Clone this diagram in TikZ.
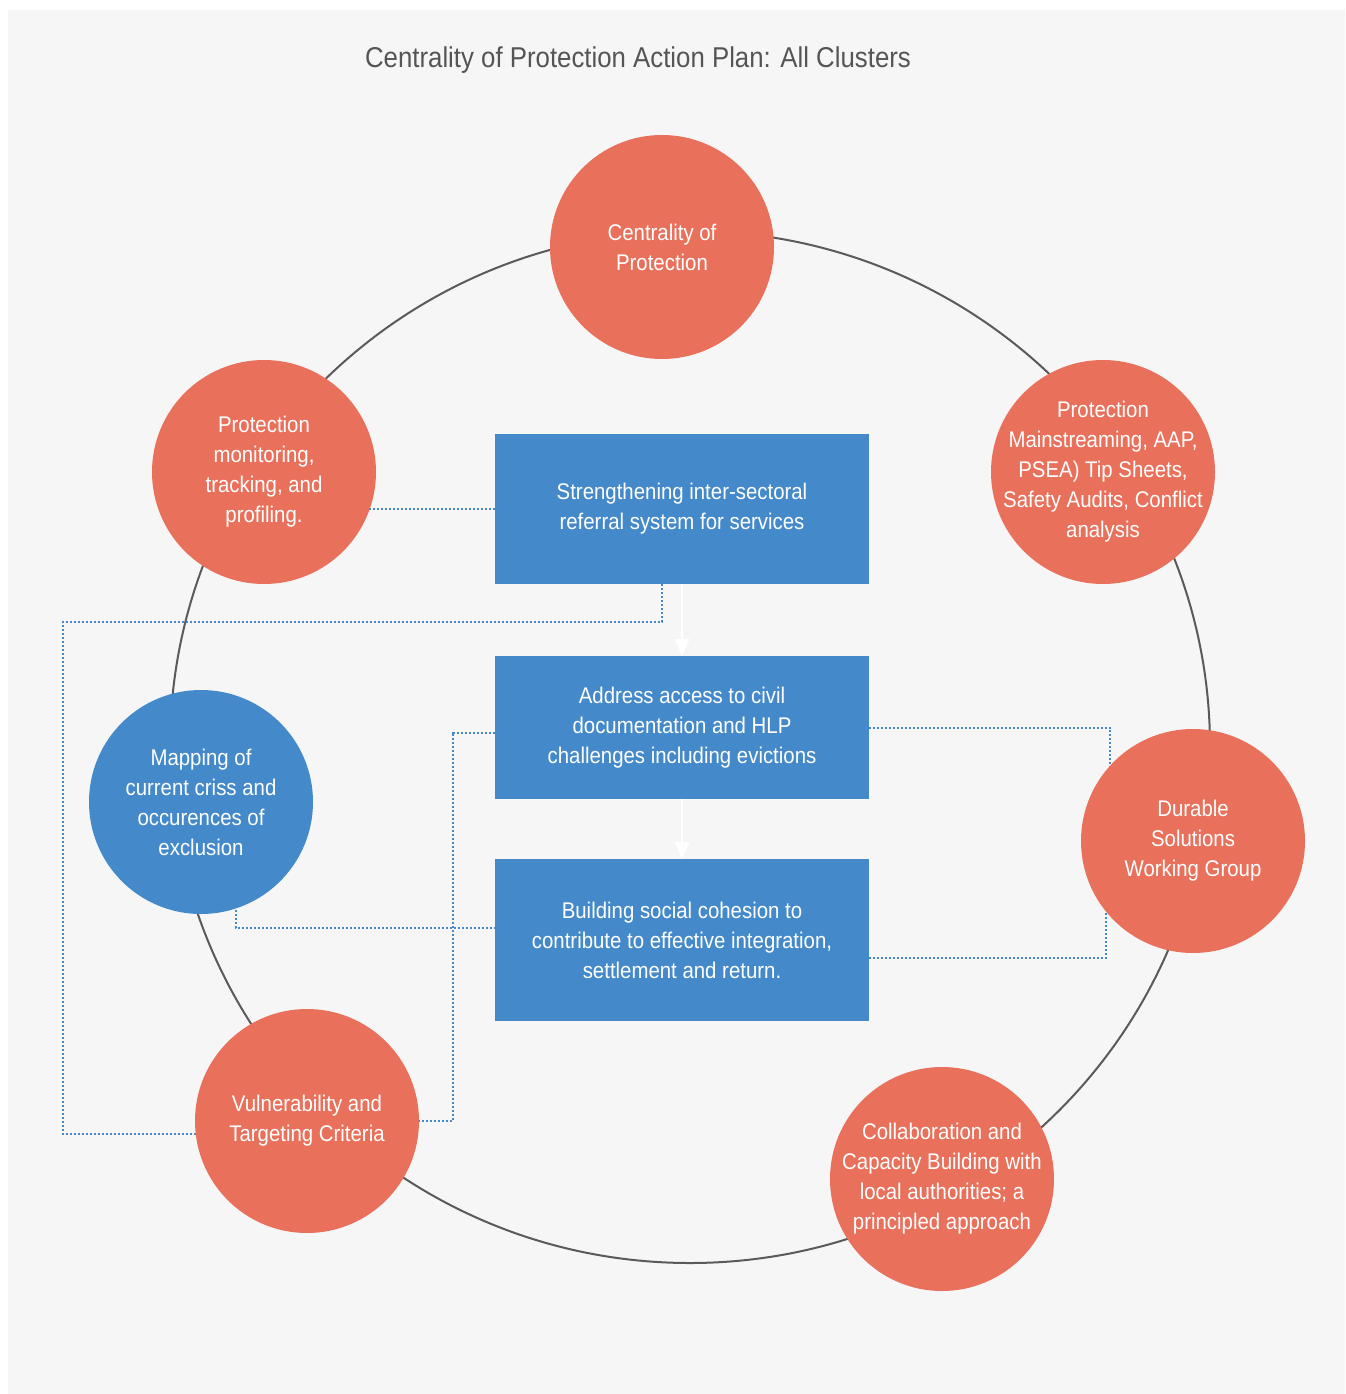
\documentclass[tikz,border=0pt]{standalone}
\usepackage{fontspec}
\setmainfont[FakeStretch=0.9]{Liberation Sans}
\usetikzlibrary{arrows.meta,calc}
\definecolor{pagegray}{HTML}{F6F6F6}
\definecolor{ringgray}{HTML}{5A5A5A}
\definecolor{titlegray}{HTML}{555555}
\definecolor{clusterred}{HTML}{E9705B}
\definecolor{actionblue}{HTML}{4489C9}
\pgfdeclarelayer{bg}
\pgfdeclarelayer{links}
\pgfsetlayers{bg,links,main}
\tikzset{
  cluster/.style={circle, fill=clusterred, minimum size=168pt, inner sep=-14pt, align=center, text=white, font=\fontsize{17}{22.5}\selectfont},
  mapcircle/.style={cluster, fill=actionblue},
  action/.style={rectangle, fill=actionblue, minimum width=280.5pt, inner sep=0pt, align=center, text=white, font=\fontsize{17}{22.5}\selectfont},
  link/.style={draw=actionblue, line width=1.5pt, dash pattern=on 1.5pt off 1.5pt},
  flow/.style={-{Triangle[length=12.5pt, width=11pt]}, draw=white, line width=1.5pt},
  ring/.style={draw=ringgray, line width=1.5pt},
  heading/.style={text=titlegray, font=\fontsize{21.5}{25}\selectfont}
}

\begin{document}
\begin{tikzpicture}[x=0.75pt, y=-0.75pt]
  \useasboundingbox (0,0) rectangle (1345,1394);
  \begin{pgfonlayer}{bg}
    \fill[pagegray] (8,10) rectangle (1345,1394);
  \end{pgfonlayer}

  \node[heading] (title) at (638,60) {Centrality of Protection Action Plan: All Clusters};

  % clusters round the ring
  \node[cluster] (cop) at (662,247) {Centrality of\\Protection};
  \node[cluster] (pmain) at (1103,472) {Protection\\Mainstreaming, AAP,\\PSEA) Tip Sheets,\\Safety Audits, Conflict\\analysis};
  \node[cluster] (durable) at (1193,841) {Durable\\Solutions\\Working Group};
  \node[cluster] (collab) at (942,1179) {Collaboration and\\Capacity Building with\\local authorities; a\\principled approach};
  \node[cluster] (vuln) at (307,1121) {Vulnerability and\\Targeting Criteria};
  \node[mapcircle] (mapping) at (201,802) {Mapping of\\current criss and\\occurences of\\exclusion};
  \node[cluster] (pmon) at (264,472) {Protection\\monitoring,\\tracking, and\\profiling.};

  % action boxes
  \node[action, minimum height=112.5pt] (refer) at (682,509) {Strengthening inter-sectoral\\referral system for services};
  \node[action, minimum height=107.25pt] (civil) at (682,727.5) {Address access to civil\\documentation and HLP\\challenges including evictions};
  \node[action, minimum height=121.5pt] (cohesion) at (682,940) {Building social cohesion to\\contribute to effective integration,\\settlement and return.};

  \draw[flow] (refer.south) -- (civil.north);
  \draw[flow] (civil.south) -- (cohesion.north);

  \begin{pgfonlayer}{links}
    \draw[ring] (690,747) ellipse [x radius=520, y radius=516];

    \coordinate (leftrun) at (63,622);
    \coordinate (midrun) at (453,732);
    \coordinate (rightrun) at (1110,727);
    \coordinate (lowrun) at (1106,958);

    \draw[link] (refer.west) -- (refer.west -| pmon.center);
    \draw[link] ($(refer.south)+(-20,0)$) |- (leftrun) |- ($(vuln.center)+(0,13)$);
    \draw[link] ($(civil.west)+(0,5)$) -| (midrun) |- (vuln.center);
    \draw[link] ($(mapping.center)+(35,0)$) |- ($(cohesion.west)+(0,-12)$);
    \draw[link] (civil.east) -| (rightrun) |- (durable.center);
    \draw[link] ($(cohesion.east)+(0,18)$) -| (lowrun) |- (durable.center);
  \end{pgfonlayer}
\end{tikzpicture}
\end{document}
